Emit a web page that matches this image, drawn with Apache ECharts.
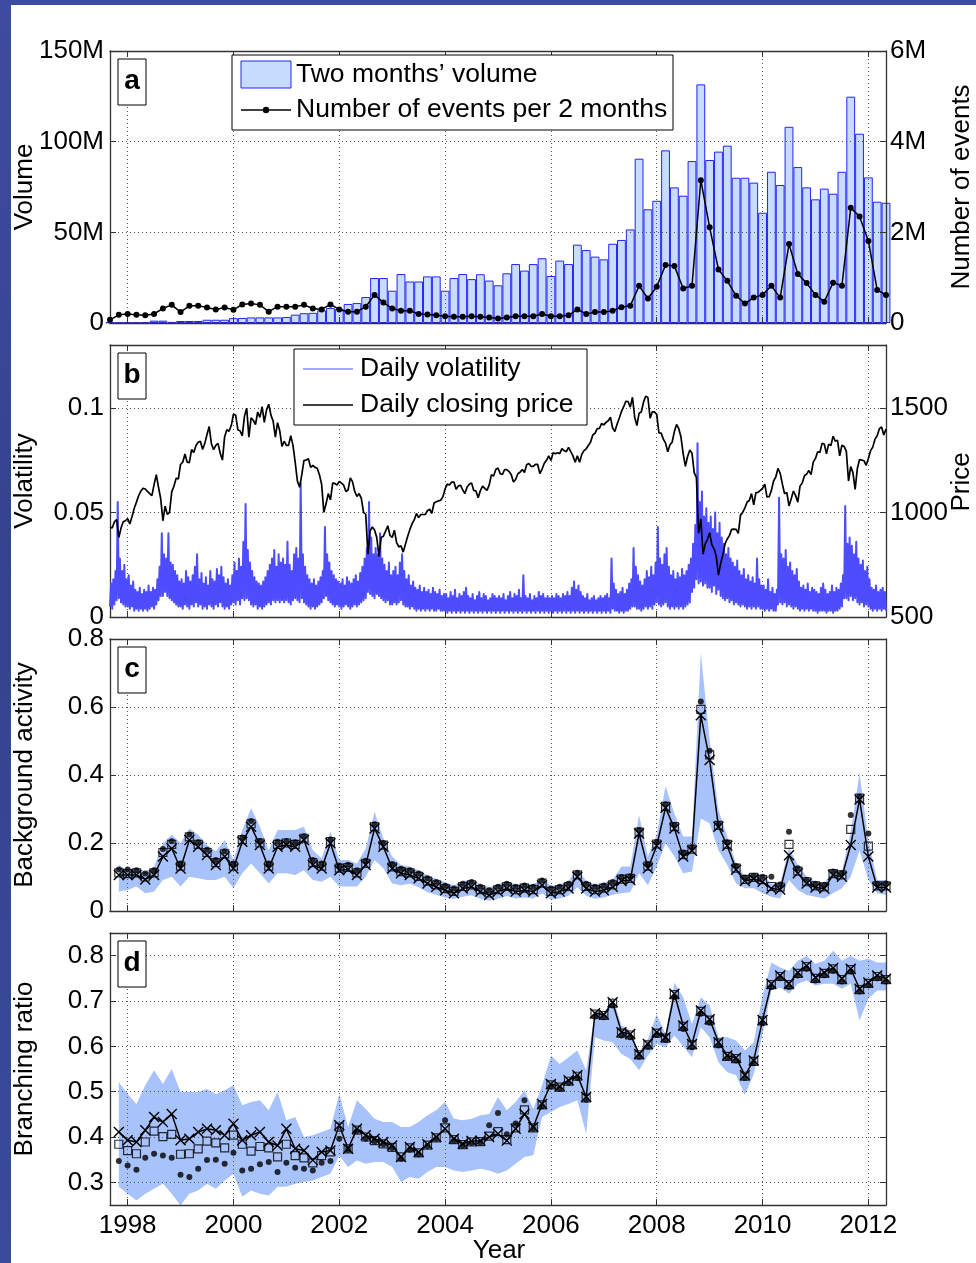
<!DOCTYPE html>
<html><head><meta charset="utf-8">
<script src="https://cdn.jsdelivr.net/npm/echarts@6.0.0/dist/echarts.min.js"></script>
<style>
html,body{margin:0;padding:0;width:976px;height:1263px;overflow:hidden;}
body{background:linear-gradient(180deg,#3d4ca0 0%,#34438f 45%,#3a4a9c 100%);}
#paper{position:absolute;left:11px;top:5px;width:965px;height:1258px;background:#fff;}
#chart{position:absolute;left:0;top:0;width:976px;height:1263px;}
</style></head>
<body><div id="paper"></div><div id="chart"></div>
<script>
// ---------------- DATA ----------------
const START = 1997 + 8 / 12;   // first two-month period (Sep 1997)
const END = 2012 + 4 / 12;     // last two-month period
const yearTicks = [1998, 2000, 2002, 2004, 2006, 2008, 2010, 2012];

// panel a: two-month volume (millions) and number of events (millions), 89 periods
const volumeM = [0.3,0.3,0.3,0.4,0.4,1.3,1.3,0.6,1.1,1.1,
  1.1,1.8,1.8,1.8,2.7,2.8,3.1,3.1,3.1,3.1,
  3.3,4.6,5.4,5.6,7.0,8.3,7.7,10.5,11.0,14.3,
  24.8,24.8,17.8,27.0,22.9,22.9,25.7,25.7,17.8,24.8,
  27.0,24.2,26.9,23.4,20.8,27.4,32.5,28.9,32.5,35.7,
  25.9,34.4,32.5,43.2,40.2,36.6,35.1,43.7,45.8,51.6,
  90.6,62.7,67.4,95.2,74.8,70.2,89.3,131.6,89.9,94.5,
  97.8,80.1,80.1,77.4,60.8,83.4,76.1,108.2,86.0,74.8,
  68.2,74.1,71.3,83.4,124.8,104.4,80.3,66.9,66.3];
const eventsM = [0.07,0.18,0.20,0.18,0.17,0.20,0.32,0.40,0.24,0.38,
  0.38,0.34,0.30,0.34,0.29,0.41,0.43,0.40,0.25,0.36,
  0.36,0.36,0.40,0.32,0.30,0.41,0.30,0.25,0.25,0.36,
  0.62,0.45,0.32,0.27,0.27,0.20,0.19,0.17,0.15,0.14,
  0.14,0.15,0.14,0.12,0.10,0.12,0.15,0.15,0.15,0.20,
  0.15,0.15,0.17,0.30,0.20,0.24,0.24,0.27,0.35,0.38,
  0.82,0.54,0.80,1.28,1.26,0.76,0.82,3.15,2.11,1.18,
  0.93,0.60,0.43,0.56,0.62,0.82,0.56,1.74,1.08,0.88,
  0.62,0.47,0.89,0.82,2.54,2.35,1.81,0.73,0.62];

// panel b: daily volatility (per mille, ~weekly samples) and closing price (half-monthly)
const volatilityPermil = [
  5,16,4,18,6,22,8,55,9,28,7,22,6,25,5,18,
  5,20,4,15,5,17,3,13,4,12,3,14,4,11,3,13,4,12,3,15,4,12,5,14,4,13,6,18,8,24,10,40,10,30,12,28,10,40,9,26,8,25,7,22,6,20,5,17,
  5,18,4,16,6,22,5,19,4,17,6,20,5,24,7,30,5,18,6,21,4,16,5,19,4,15,6,22,5,18,4,17,6,23,5,20,7,24,5,19,4,16,5,18,4,15,6,20,
  7,26,6,22,8,28,6,24,9,36,8,54,9,32,8,26,6,22,5,19,6,17,4,16,5,15,4,17,5,19,6,22,7,25,6,28,8,32,7,24,8,30,7,26,8,28,7,25,
  8,36,7,25,6,22,8,30,9,33,8,28,7,64,9,30,7,24,6,20,5,18,4,16,5,18,4,15,5,17,6,19,7,22,9,43,10,30,8,26,7,22,6,20,5,18,6,17,
  5,16,4,18,5,15,6,19,5,17,4,16,5,18,6,20,5,17,6,21,7,24,8,28,9,33,12,55,11,38,10,30,9,33,11,30,10,40,9,28,8,25,7,22,8,26,6,20,
  6,22,7,24,6,20,7,26,8,30,6,22,5,18,5,20,4,15,5,17,4,14,3,13,4,15,3,12,4,14,3,12,4,13,3,11,4,14,3,12,3,11,4,13,3,10,3,11,
  3,11,2,9,3,12,2,10,3,13,2,9,3,11,2,10,3,12,2,14,3,10,2,9,3,11,2,8,3,10,2,12,3,9,2,11,3,10,2,8,3,9,2,11,3,10,2,9,
  3,10,2,9,3,11,2,8,3,10,2,12,3,9,2,11,3,10,2,13,3,9,2,20,3,10,2,9,3,11,2,8,3,10,2,9,3,12,2,10,3,11,2,9,3,10,2,9,
  3,10,2,9,3,11,2,10,3,9,2,11,3,10,2,12,3,10,2,14,3,17,2,13,3,15,2,12,3,10,2,9,3,11,2,8,3,9,2,10,3,8,2,9,3,10,2,9,
  3,10,2,11,3,9,2,28,4,16,3,13,3,11,2,12,3,14,2,11,3,13,3,16,4,18,5,33,5,24,4,20,4,17,3,15,4,18,5,22,4,19,5,24,4,20,6,26,
  7,43,6,28,5,25,6,30,7,33,5,24,4,20,5,22,4,18,5,21,4,19,5,23,4,20,5,22,6,25,7,28,12,35,14,44,18,83,16,55,17,60,15,48,16,52,14,45,
  14,48,12,42,15,50,11,40,13,45,10,38,9,35,8,30,9,33,7,28,8,26,6,24,7,27,6,22,5,20,6,23,5,18,4,20,5,17,4,19,5,16,4,28,5,18,4,15,
  4,15,3,13,4,18,3,12,4,14,3,11,3,13,6,57,7,30,6,28,7,32,5,24,6,26,5,22,4,20,5,23,4,17,3,14,4,15,3,13,4,16,3,12,4,14,3,13,
  3,12,2,11,3,14,3,16,3,13,2,11,3,12,3,15,2,12,3,14,3,13,4,16,5,20,9,53,9,35,8,38,10,34,8,30,9,36,7,28,6,25,7,27,5,22,6,24,
  5,18,4,14,3,13,4,15,3,12,4,13,3,14,4,12,3];
const closePrice = [
  930,925,955,965,880,925,955,960,
  970,945,980,1020,1049,1080,1102,1115,1112,1100,1090,1080,1133,1180,1120,1065,960,1030,990,1000,1098,1125,1163,1160,
  1229,1240,1279,1240,1238,1300,1286,1320,1335,1340,1301,1330,1372,1410,1328,1300,1320,1330,1282,1250,1362,1395,1388,1415,
  1469,1465,1394,1390,1366,1460,1498,1360,1452,1440,1420,1480,1454,1505,1430,1490,1517,1465,1436,1360,1429,1390,1315,1340,
  1320,1320,1366,1320,1240,1150,1120,1180,1249,1250,1256,1215,1224,1215,1211,1180,1134,1000,1041,1090,1060,1140,1139,1130,
  1148,1140,1130,1100,1107,1165,1147,1100,1076,1090,1067,1000,990,800,912,930,916,880,790,880,886,910,936,890,
  880,915,856,835,841,810,848,885,917,945,964,995,975,990,990,990,1008,1015,996,1045,1051,1055,1058,1075,
  1112,1135,1131,1145,1145,1110,1126,1130,1107,1090,1121,1135,1141,1105,1102,1070,1104,1125,1115,1105,1130,1180,1174,1205,
  1212,1185,1181,1205,1204,1195,1181,1145,1157,1185,1192,1205,1191,1228,1234,1220,1220,1230,1229,1185,1207,1235,1249,1270,
  1248,1285,1280,1285,1281,1305,1295,1290,1311,1290,1270,1240,1270,1240,1277,1295,1304,1320,1336,1370,1378,1400,1401,1425,
  1418,1430,1438,1455,1403,1387,1421,1450,1482,1505,1531,1530,1503,1550,1455,1415,1474,1480,1527,1555,1549,1450,1481,1480,
  1468,1380,1379,1350,1331,1290,1323,1335,1386,1420,1400,1360,1280,1220,1267,1298,1283,1190,1166,900,969,800,850,870,
  903,845,826,790,700,756,798,850,873,890,919,920,919,900,987,1000,1021,1050,1057,1090,1036,1095,1096,1105,
  1115,1135,1074,1075,1104,1150,1169,1210,1187,1135,1089,1095,1031,1065,1102,1080,1049,1125,1141,1175,1183,1200,1181,1240,
  1258,1290,1286,1330,1327,1280,1326,1320,1364,1340,1345,1270,1321,1315,1292,1150,1219,1190,1110,1210,1253,1250,1247,1225,
  1258,1295,1312,1350,1366,1400,1408,1370,1398];

// panel c: background activity (periods 1..88)
const bgMain = [0.106,0.106,0.106,0.093,0.106,0.160,0.184,0.125,0.209,0.189,
  0.165,0.135,0.160,0.125,0.204,0.248,0.194,0.125,0.189,0.194,
  0.189,0.209,0.135,0.125,0.199,0.120,0.122,0.106,0.135,0.243,
  0.189,0.125,0.111,0.106,0.096,0.081,0.071,0.061,0.052,0.066,
  0.071,0.057,0.047,0.057,0.066,0.057,0.061,0.057,0.076,0.052,
  0.057,0.066,0.101,0.066,0.057,0.061,0.071,0.088,0.091,0.228,
  0.126,0.192,0.304,0.243,0.160,0.177,0.576,0.444,0.248,0.192,
  0.121,0.088,0.094,0.086,0.066,0.063,0.164,0.111,0.081,0.069,
  0.066,0.106,0.101,0.194,0.328,0.160,0.069,0.069];
const bgSquare = [0.112,0.110,0.112,0.100,0.112,0.172,0.196,0.132,0.218,0.196,
  0.172,0.142,0.168,0.132,0.210,0.256,0.200,0.132,0.196,0.200,
  0.196,0.214,0.142,0.132,0.204,0.126,0.128,0.112,0.140,0.248,
  0.194,0.130,0.116,0.112,0.102,0.088,0.077,0.066,0.058,0.072,
  0.077,0.063,0.053,0.063,0.072,0.063,0.067,0.063,0.082,0.058,
  0.063,0.072,0.106,0.072,0.063,0.067,0.077,0.094,0.096,0.232,
  0.132,0.197,0.308,0.248,0.166,0.182,0.593,0.459,0.252,0.196,
  0.126,0.093,0.099,0.092,0.072,0.070,0.196,0.117,0.086,0.074,
  0.071,0.110,0.106,0.240,0.332,0.191,0.074,0.074];
const bgDot = [0.122,0.122,0.120,0.110,0.120,0.182,0.205,0.140,0.225,0.202,
  0.180,0.150,0.176,0.140,0.216,0.265,0.206,0.140,0.204,0.206,
  0.202,0.220,0.150,0.140,0.210,0.134,0.136,0.120,0.148,0.255,
  0.200,0.138,0.124,0.120,0.110,0.096,0.085,0.074,0.066,0.080,
  0.085,0.071,0.061,0.071,0.080,0.071,0.075,0.071,0.090,0.066,
  0.071,0.080,0.112,0.080,0.071,0.075,0.085,0.100,0.102,0.238,
  0.138,0.203,0.314,0.253,0.172,0.187,0.616,0.471,0.256,0.202,
  0.132,0.098,0.104,0.101,0.101,0.078,0.233,0.126,0.092,0.080,
  0.077,0.116,0.112,0.282,0.336,0.228,0.080,0.081];
const bgHigh = [0.135,0.120,0.128,0.116,0.130,0.199,0.224,0.199,0.243,0.224,
  0.194,0.175,0.209,0.150,0.238,0.302,0.248,0.179,0.238,0.238,
  0.238,0.248,0.179,0.155,0.233,0.150,0.150,0.140,0.184,0.292,
  0.214,0.160,0.135,0.130,0.120,0.105,0.095,0.085,0.075,0.088,
  0.092,0.078,0.070,0.078,0.088,0.078,0.082,0.078,0.098,0.074,
  0.078,0.088,0.125,0.088,0.078,0.082,0.092,0.131,0.131,0.282,
  0.160,0.224,0.368,0.287,0.219,0.219,0.760,0.503,0.297,0.219,
  0.140,0.101,0.111,0.106,0.081,0.081,0.185,0.136,0.101,0.086,
  0.081,0.121,0.116,0.233,0.405,0.209,0.091,0.091];
const bgLow = [0.057,0.062,0.072,0.052,0.057,0.091,0.101,0.072,0.101,0.096,
  0.091,0.091,0.101,0.067,0.111,0.140,0.111,0.081,0.111,0.111,
  0.106,0.120,0.091,0.086,0.101,0.072,0.072,0.072,0.101,0.150,
  0.126,0.081,0.076,0.080,0.070,0.055,0.048,0.040,0.035,0.042,
  0.046,0.036,0.030,0.036,0.044,0.037,0.040,0.037,0.052,0.033,
  0.037,0.045,0.070,0.045,0.036,0.040,0.048,0.052,0.055,0.111,
  0.076,0.131,0.199,0.160,0.111,0.116,0.272,0.258,0.179,0.135,
  0.081,0.067,0.067,0.052,0.042,0.037,0.091,0.062,0.047,0.042,
  0.037,0.052,0.067,0.101,0.179,0.091,0.052,0.047];

// panel d: branching ratio (periods 1..88)
const brMain = [0.411,0.393,0.389,0.415,0.444,0.433,0.451,0.393,0.396,0.411,
  0.418,0.415,0.404,0.429,0.393,0.404,0.411,0.389,0.381,0.418,
  0.374,0.370,0.349,0.367,0.370,0.426,0.374,0.418,0.404,0.396,
  0.389,0.381,0.356,0.378,0.367,0.384,0.400,0.418,0.396,0.385,
  0.391,0.392,0.400,0.407,0.392,0.418,0.451,0.422,0.473,0.517,
  0.512,0.525,0.536,0.488,0.673,0.670,0.697,0.631,0.627,0.583,
  0.605,0.631,0.620,0.716,0.646,0.605,0.679,0.660,0.609,0.580,
  0.575,0.536,0.569,0.658,0.738,0.756,0.738,0.763,0.778,0.752,
  0.763,0.773,0.749,0.771,0.727,0.741,0.756,0.749];
const brSquare = [0.384,0.370,0.363,0.389,0.413,0.401,0.406,0.362,0.363,0.374,
  0.391,0.387,0.376,0.404,0.384,0.369,0.379,0.376,0.356,0.384,
  0.359,0.354,0.343,0.359,0.367,0.422,0.374,0.415,0.400,0.392,
  0.385,0.377,0.356,0.376,0.365,0.382,0.398,0.420,0.394,0.383,
  0.389,0.390,0.402,0.412,0.394,0.420,0.460,0.420,0.471,0.515,
  0.510,0.523,0.534,0.486,0.671,0.668,0.695,0.629,0.625,0.581,
  0.603,0.629,0.618,0.714,0.644,0.603,0.677,0.658,0.607,0.578,
  0.573,0.534,0.567,0.656,0.736,0.754,0.736,0.761,0.776,0.750,
  0.761,0.771,0.747,0.769,0.725,0.739,0.754,0.747];
const brDot = [0.347,0.337,0.328,0.354,0.363,0.359,0.354,0.317,0.312,0.330,
  0.349,0.350,0.341,0.365,0.326,0.330,0.340,0.345,0.323,0.343,
  0.332,0.330,0.326,0.343,0.347,0.396,0.372,0.413,0.396,0.390,
  0.384,0.376,0.352,0.372,0.362,0.380,0.396,0.437,0.392,0.381,
  0.387,0.388,0.426,0.453,0.406,0.430,0.481,0.418,0.468,0.512,
  0.506,0.519,0.530,0.482,0.666,0.664,0.690,0.624,0.620,0.577,
  0.599,0.625,0.614,0.709,0.638,0.598,0.672,0.652,0.602,0.574,
  0.569,0.530,0.563,0.651,0.731,0.750,0.731,0.756,0.771,0.745,
  0.757,0.767,0.743,0.765,0.721,0.735,0.750,0.743];
const brHigh = [0.521,0.495,0.473,0.514,0.547,0.517,0.550,0.499,0.499,0.499,
  0.506,0.495,0.503,0.514,0.470,0.477,0.481,0.459,0.499,0.437,
  0.444,0.400,0.404,0.411,0.418,0.495,0.422,0.481,0.462,0.440,
  0.433,0.433,0.422,0.422,0.433,0.448,0.459,0.477,0.440,0.437,
  0.440,0.448,0.451,0.488,0.459,0.477,0.503,0.462,0.514,0.580,
  0.561,0.576,0.591,0.547,0.679,0.672,0.710,0.646,0.635,0.587,
  0.616,0.671,0.627,0.740,0.708,0.649,0.708,0.690,0.620,0.620,
  0.613,0.591,0.609,0.712,0.785,0.774,0.767,0.789,0.800,0.782,
  0.789,0.811,0.789,0.800,0.789,0.793,0.785,0.785];
const brLow = [0.290,0.275,0.260,0.275,0.286,0.297,0.275,0.249,0.275,0.282,
  0.297,0.286,0.304,0.319,0.268,0.282,0.275,0.271,0.290,0.290,
  0.297,0.301,0.304,0.312,0.319,0.359,0.334,0.348,0.341,0.345,
  0.345,0.334,0.301,0.312,0.308,0.323,0.334,0.334,0.326,0.323,
  0.326,0.330,0.326,0.319,0.326,0.341,0.356,0.360,0.444,0.455,
  0.466,0.473,0.481,0.407,0.620,0.613,0.609,0.583,0.572,0.547,
  0.580,0.605,0.598,0.624,0.600,0.576,0.642,0.620,0.565,0.543,
  0.536,0.492,0.539,0.627,0.723,0.730,0.716,0.738,0.745,0.734,
  0.738,0.738,0.727,0.738,0.657,0.705,0.723,0.723];

// ---------------- STYLE / LAYOUT ----------------
const FONT = "'Liberation Sans', Arial, Helvetica, sans-serif";
const FRAME = '#333';
const GRID_LINE = { type: [1, 3], color: '#555', width: 1 };
const GRID_LEFT = 110, GRID_W = 776, GRID_H = 272;
const GRID_TOPS = [51, 345, 639, 933];
const BAR_FILL = '#c8dcff', BAR_EDGE = '#2424ff', BAND = '#a8c2fc', VOL_BLUE = '#4d4dff';

const periodX = k => START + k / 6;
const pairs = (arr, xf) => arr.map((v, i) => [xf(i), v]);

function xAxisCfg(g, pos, labels) {
  return {
    type: 'value', gridIndex: g, position: pos, min: START, max: END, splitNumber: 7,
    axisLine: { show: true, onZero: false, lineStyle: { color: FRAME, width: 1.3 } },
    axisTick: { show: true, inside: true, length: 6, customValues: yearTicks, lineStyle: { color: FRAME, width: 1 } },
    axisLabel: { show: labels, customValues: yearTicks,
      color: '#000', fontSize: 26, fontFamily: FONT, margin: 8, formatter: v => String(Math.round(v)) },
    splitLine: { show: pos === 'bottom', lineStyle: GRID_LINE }
  };
}
function yAxisCfg(g, pos, o) {
  const ax = {
    type: 'value', gridIndex: g, position: pos, min: o.min, max: o.max,
    axisLine: { show: true, onZero: false, lineStyle: { color: FRAME, width: 1.3 } },
    axisTick: { show: true, inside: true, length: 6, lineStyle: { color: FRAME, width: 1 } },
    axisLabel: { show: !!o.fmt, color: '#000', fontSize: 26, fontFamily: FONT,
      margin: pos === 'left' ? 6 : 4, formatter: o.fmt, showMaxLabel: o.showMax !== false },
    splitLine: { show: pos === 'left', lineStyle: GRID_LINE }
  };
  if (o.interval != null) ax.interval = o.interval;
  if (o.splitNumber != null) ax.splitNumber = o.splitNumber;
  if (o.custom) { ax.axisTick.customValues = o.custom; ax.axisLabel.customValues = o.custom; }
  return ax;
}
const mFmt = v => (v === 0 ? '0' : v + 'M');
const d2 = v => (v === 0 ? '0' : String(Math.round(v * 100) / 100));
const d1 = v => (Math.abs(v) < 1e-9 ? '0' : v.toFixed(1));
const intFmt = v => String(Math.round(v));

const grids = GRID_TOPS.map(t => ({ left: GRID_LEFT, top: t, width: GRID_W, height: GRID_H, show: false, outerBoundsMode: 'none' }));

const xAxes = [];
for (let g = 0; g < 4; g++) { xAxes.push(xAxisCfg(g, 'bottom', g === 3)); xAxes.push(xAxisCfg(g, 'top', false)); }
const brTicks = [0.3, 0.4, 0.5, 0.6, 0.7, 0.8];
const yAxes = [
  yAxisCfg(0, 'left', { min: 0, max: 150, interval: 50, fmt: mFmt }),
  yAxisCfg(0, 'right', { min: 0, max: 6, interval: 2, fmt: mFmt }),
  yAxisCfg(1, 'left', { min: 0, max: 0.13, interval: 0.05, fmt: d2, showMax: false }),
  yAxisCfg(1, 'right', { min: 500, max: 1800, interval: 500, fmt: intFmt, showMax: false }),
  yAxisCfg(2, 'left', { min: 0, max: 0.8, interval: 0.2, fmt: d1 }),
  yAxisCfg(2, 'right', { min: 0, max: 0.8, interval: 0.2 }),
  yAxisCfg(3, 'left', { min: 0.25, max: 0.85, splitNumber: 6, fmt: d1, custom: brTicks }),
  yAxisCfg(3, 'right', { min: 0.25, max: 0.85, splitNumber: 6, custom: brTicks })
];

const CROSS = 'path://M0,0L10,10M10,0L0,10';
const volStep = (END - START) / (volatilityPermil.length - 1);
const priceStep = (END - START) / (closePrice.length - 1);
const fromPeriod1 = i => periodX(i + 1);

function estimatorSeries(ax, low, high, main, sq, dot) {
  return [
    { type: 'line', xAxisIndex: ax, yAxisIndex: ax, data: pairs(high, fromPeriod1), showSymbol: false, z: -3,
      lineStyle: { width: 0, opacity: 0 }, areaStyle: { color: BAND, opacity: 1, origin: 'start' }, silent: true },
    { type: 'line', xAxisIndex: ax, yAxisIndex: ax, data: pairs(low, fromPeriod1), showSymbol: false, z: -2,
      lineStyle: { width: 0, opacity: 0 }, areaStyle: { color: '#ffffff', opacity: 1, origin: 'start' }, silent: true },
    { type: 'line', xAxisIndex: ax, yAxisIndex: ax, data: pairs(main, fromPeriod1), symbol: CROSS, symbolSize: 10, z: 5,
      lineStyle: { color: '#000', width: 1.5 }, itemStyle: { color: 'rgba(0,0,0,0)', borderColor: '#000', borderWidth: 1.4 } },
    { type: 'scatter', xAxisIndex: ax, yAxisIndex: ax, data: pairs(sq, fromPeriod1), symbol: 'rect', symbolSize: 8, z: 4,
      itemStyle: { color: 'rgba(0,0,0,0)', borderColor: '#000', borderWidth: 1.2 } },
    { type: 'scatter', xAxisIndex: ax, yAxisIndex: ax, data: pairs(dot, fromPeriod1), symbol: 'circle', symbolSize: 6, z: 4,
      itemStyle: { color: '#000' } }
  ];
}

const series = [
  { type: 'bar', xAxisIndex: 0, yAxisIndex: 0, data: pairs(volumeM, periodX), barWidth: GRID_W / 88, z: -1,
    itemStyle: { color: BAR_FILL, borderColor: BAR_EDGE, borderWidth: 1 } },
  { type: 'line', xAxisIndex: 0, yAxisIndex: 1, data: pairs(eventsM, periodX), symbol: 'circle', symbolSize: 6, z: 5,
    lineStyle: { color: '#000', width: 1.5 }, itemStyle: { color: '#000' } },
  { type: 'line', xAxisIndex: 2, yAxisIndex: 2, data: volatilityPermil.map((v, i) => [START + i * volStep, v / 1000]),
    showSymbol: false, z: 3, lineStyle: { color: VOL_BLUE, width: 2, join: 'round' } },
  { type: 'line', xAxisIndex: 2, yAxisIndex: 3, data: pairs(closePrice, i => START + i * priceStep),
    showSymbol: false, z: 4, lineStyle: { color: '#000', width: 1.7 } },
  ...estimatorSeries(4, bgLow, bgHigh, bgMain, bgSquare, bgDot),
  ...estimatorSeries(6, brLow, brHigh, brMain, brSquare, brDot)
];

// ---------------- ANNOTATIONS (legends, panel letters, axis titles) ----------------
function txt(text, x, y, o = {}) {
  return { type: 'text', x, y, z: 100, rotation: o.rot || 0,
    style: { text, fill: '#000', font: (o.bold ? 'bold ' : '') + (o.size || 26) + 'px ' + FONT,
      align: o.align || 'left', verticalAlign: 'middle' } };
}
const rect = (x, y, w, h, fill, stroke) => ({ type: 'rect', z: 99, shape: { x, y, width: w, height: h },
  style: { fill, stroke, lineWidth: 1 } });
const seg = (x1, y1, x2, y2, stroke, w) => ({ type: 'line', z: 100, shape: { x1, y1, x2, y2 }, style: { stroke, lineWidth: w } });

const graphic = [
  // legend a
  rect(232, 55, 441, 75, '#fff', '#000'),
  rect(241, 61, 50, 27, BAR_FILL, BAR_EDGE),
  txt('Two months’ volume', 296, 75, { size: 26.5 }),
  seg(241, 110, 291, 110, '#000', 1.5),
  { type: 'circle', z: 101, shape: { cx: 266, cy: 110, r: 3.2 }, style: { fill: '#000' } },
  txt('Number of events per 2 months', 296, 110, { size: 26.5 }),
  // legend b
  rect(294, 349, 293, 76, '#fff', '#000'),
  seg(303, 369, 353, 369, VOL_BLUE, 1.2),
  txt('Daily volatility', 360, 369, { size: 26.5 }),
  seg(303, 405, 353, 405, '#000', 1.4),
  txt('Daily closing price', 360, 405, { size: 26.5 }),
  // panel letters
  rect(118, 59, 28, 46, '#fff', '#000'), txt('a', 132, 81, { bold: true, size: 28, align: 'center' }),
  rect(118, 353, 28, 46, '#fff', '#000'), txt('b', 132, 375, { bold: true, size: 28, align: 'center' }),
  rect(118, 647, 28, 46, '#fff', '#000'), txt('c', 132, 669, { bold: true, size: 28, align: 'center' }),
  rect(118, 941, 28, 46, '#fff', '#000'), txt('d', 132, 963, { bold: true, size: 28, align: 'center' }),
  // axis titles
  txt('Volume', 25, 187, { rot: Math.PI / 2, align: 'center' }),
  txt('Number of events', 962, 187, { rot: Math.PI / 2, align: 'center' }),
  txt('Volatility', 25, 481, { rot: Math.PI / 2, align: 'center' }),
  txt('Price', 962, 482, { rot: Math.PI / 2, align: 'center' }),
  txt('Background activity', 25, 775, { rot: Math.PI / 2, align: 'center' }),
  txt('Branching ratio', 25, 1069, { rot: Math.PI / 2, align: 'center' }),
  txt('Year', 499, 1251, { align: 'center' })
];

const chart = echarts.init(document.getElementById('chart'), null, { renderer: 'canvas' });
chart.setOption({
  backgroundColor: 'transparent',
  animation: false,
  textStyle: { fontFamily: FONT },
  grid: grids,
  xAxis: xAxes,
  yAxis: yAxes,
  series: series,
  graphic: graphic
});
</script>
</body></html>
